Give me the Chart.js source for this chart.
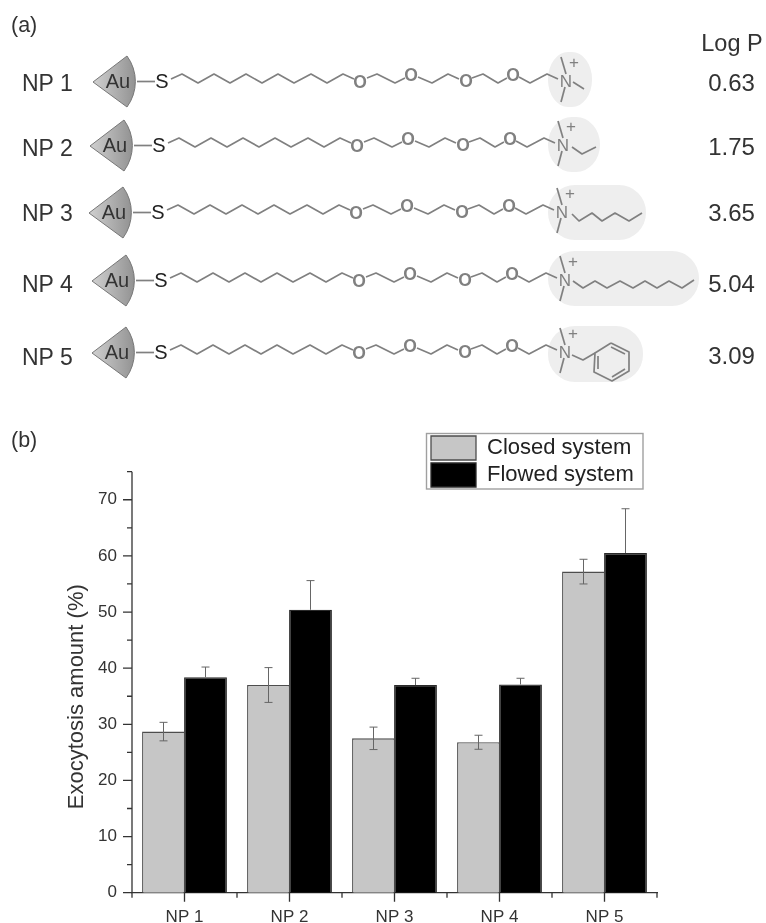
<!DOCTYPE html>
<html>
<head>
<meta charset="utf-8">
<title>Exocytosis amount</title>
<script src="https://cdn.jsdelivr.net/npm/chart.js@4/dist/chart.umd.min.js"></script>
<style>
  html, body { margin: 0; padding: 0; background: #fff; overflow: hidden; }
  #wrap { position: relative; width: 766px; height: 923px; filter: blur(0.35px); }
  #chart { position: absolute; left: 0; top: 0; }
  #scheme { position: absolute; left: 0; top: 0; }
  #scheme text { font-family: "Liberation Sans", Arial, sans-serif; }
</style>
</head>
<body>
<div id="wrap">
  <canvas id="chart" width="766" height="923"></canvas>
  <svg id="scheme" width="766" height="460" xmlns="http://www.w3.org/2000/svg"></svg>
</div>
<script>
// ── chart data ───────────────────────────────────────────
const categories = ['NP 1', 'NP 2', 'NP 3', 'NP 4', 'NP 5'];
const closedValues = [28.7, 37.0, 27.5, 26.8, 57.2];
const flowedValues = [38.4, 50.4, 37.0, 37.1, 60.5];
const closedErrors = [1.65, 3.1, 2.0, 1.25, 2.2];
const flowedErrors = [1.8, 5.2, 1.2, 1.1, 7.9];
const seriesNames = ['Closed system', 'Flowed system'];
const yTitle = 'Exocytosis amount (%)';

// ── scheme (a) labels ────────────────────────────────────
const logPHeader = 'Log P';
const logPValues = ['0.63', '1.75', '3.65', '5.04', '3.09'];

const INK = '#333333';
const BOND = '#808080';
const FONT = '"Liberation Sans", Arial, sans-serif';

// ── scheme (a): the ligand drawings, NP 1 is the template ─
const rowDx = [0, -3, -4, -1, -1];
const rowDy = [0, 64, 131, 199, 271];
const labelY = [83, 148, 213, 284, 357];
const logPY = [82, 146, 212, 283, 355];
const blobs = [
  [548, 52, 44, 55, 20],
  [548, 117, 52, 55, 24],
  [548, 185, 98, 55, 27],
  [548, 251, 151, 55, 27],
  [548, 326, 95, 56, 27],
];
const tails = [
  [[573, 82], [584, 89]],
  [[572, 147], [582, 154], [596, 147]],
  [[572, 214], [579, 221], [592, 213], [602, 221], [615, 213], [629, 221], [642, 213]],
  [[573, 281], [583, 288], [595, 281], [607, 288], [620, 281], [633, 288], [645, 281],
   [657, 288], [669, 281], [682, 288], [694, 280]],
  [[572, 355], [583, 360], [595, 353]],
];

function polyline(pts, dx, dy) {
  const p = pts.map(function (q) { return (q[0] + dx) + ',' + (q[1] + dy); }).join(' ');
  return '<polyline points="' + p + '" fill="none" stroke="' + BOND + '" stroke-width="1.7" stroke-linejoin="round"/>';
}

function label(str, x, y, size, color, anchor, weight) {
  return '<text x="' + x + '" y="' + y + '" font-size="' + size + '" fill="' + color +
    '" text-anchor="' + (anchor || 'start') + '" dominant-baseline="central"' +
    (weight ? ' font-weight="' + weight + '"' : '') + '>' + str + '</text>';
}

function buildScheme() {
  let out = '<defs><linearGradient id="au" x1="0" x2="1" y1="0" y2="0">' +
    '<stop offset="0" stop-color="#d0d0d0"/><stop offset="1" stop-color="#929292"/></linearGradient></defs>';
  out += label('(a)', 11, 25, 21.5, INK);
  out += label('(b)', 11, 440, 21.5, INK);
  out += label(logPHeader, 732, 43, 23.5, INK, 'middle');

  categories.forEach(function (name, i) {
    const dx = rowDx[i], dy = rowDy[i];
    const b = blobs[i];
    out += '<rect x="' + b[0] + '" y="' + b[1] + '" width="' + b[2] + '" height="' + b[3] +
      '" rx="' + b[4] + '" ry="27" fill="#eeeeee"/>';

    out += label(name, 22, labelY[i], 23, INK);
    out += label(logPValues[i], 731.5, logPY[i], 24, INK, 'middle');

    // gold wedge
    out += '<path d="M' + (93 + dx) + ' ' + (82 + dy) + ' L' + (127 + dx) + ' ' + (56 + dy) +
      ' A43 43 0 0 1 ' + (127 + dx) + ' ' + (107 + dy) + ' Z" fill="url(#au)" stroke="#777777" stroke-width="1"/>';
    out += label('Au', 118 + dx, 81 + dy, 20, INK, 'middle');
    out += polyline([[137, 81.5], [155, 81.5]], dx, dy);
    out += label('S', 162 + dx, 81 + dy, 20, '#222222', 'middle');

    // PEG chain
    out += polyline([[171, 79], [182, 74], [198, 83], [214, 74], [230, 83], [246, 74], [262, 83],
      [278, 74], [294, 83], [311, 74], [327, 83], [343, 74], [354, 79]], dx, dy);
    out += polyline([[367, 78], [377, 74], [395, 83], [405, 78]], dx, dy);
    out += polyline([[418, 77], [432, 83], [448, 74], [459, 79]], dx, dy);
    out += polyline([[472, 78], [483, 74], [498, 83], [507, 78]], dx, dy);
    out += polyline([[519, 77], [530, 83], [547, 74], [558, 79]], dx, dy);
    [[360, 82], [411, 75], [466, 81], [513, 75]].forEach(function (o) {
      out += label('O', o[0] + dx, o[1] + dy, 17.5, BOND, 'middle', 'bold');
    });

    // ammonium head
    out += label('N', 566 + dx, 81 + dy, 17, BOND, 'middle');
    out += polyline([[566, 74], [561, 57]], dx, dy);
    out += polyline([[565, 87], [561, 102]], dx, dy);
    out += label('+', 574 + dx, 62 + dy, 17, BOND, 'middle');
    out += polyline(tails[i], 0, 0);
  });

  // benzyl ring of NP 5
  out += polyline([[611, 343], [629, 352], [629, 371], [612, 381], [594, 372], [595, 353], [611, 343]], 0, 0);
  out += polyline([[611, 347], [625, 354]], 0, 0);
  out += polyline([[625, 369], [612, 377]], 0, 0);
  out += polyline([[598, 369], [598, 356]], 0, 0);

  document.getElementById('scheme').innerHTML = out;
}

// ── plugin: legend position and frame, axis ticks, error bars ──
const figurePlugin = {
  id: 'figure',
  afterLayout: function (chart) {
    const lg = chart.legend;
    lg.left = 428; lg.right = 643; lg.top = 433; lg.bottom = 492;
    // the title sits a bit below the axis middle in the original
    chart.scales.y.bottom += 29;
  },
  afterDraw: function (chart) {
    const ctx = chart.ctx;
    const x = chart.scales.x, y = chart.scales.y;
    ctx.save();
    ctx.strokeStyle = INK;
    ctx.lineWidth = 1.3;
    ctx.beginPath();
    // y axis line (native border would follow the shifted scale bottom)
    ctx.moveTo(y.right, y.getPixelForValue(75));
    ctx.lineTo(y.right, y.getPixelForValue(0));
    // y ticks, long on tens
    for (let v = 0; v <= 75; v += 5) {
      const py = y.getPixelForValue(v);
      ctx.moveTo(y.right, py);
      ctx.lineTo(y.right - (v % 10 === 0 ? 9 : 5), py);
    }
    // x ticks, long on the categories, short between them
    const step = x.getPixelForValue(1) - x.getPixelForValue(0);
    categories.forEach(function (c, i) {
      const px = x.getPixelForValue(i);
      ctx.moveTo(px, x.top);
      ctx.lineTo(px, x.top + 9);
      ctx.moveTo(px - step / 2, x.top);
      ctx.lineTo(px - step / 2, x.top + 5);
    });
    const last = x.getPixelForValue(categories.length - 1) + step / 2;
    ctx.moveTo(last, x.top);
    ctx.lineTo(last, x.top + 5);
    ctx.stroke();

    // legend frame
    ctx.strokeStyle = '#a0a0a0';
    ctx.lineWidth = 1.4;
    ctx.strokeRect(426.5, 433.5, 216.5, 55.5);
    ctx.restore();
  },
  afterDatasetsDraw: function (chart) {
    const ctx = chart.ctx;
    const y = chart.scales.y;
    ctx.save();
    ctx.strokeStyle = '#666666';
    ctx.lineWidth = 1;
    ctx.beginPath();
    [closedErrors, flowedErrors].forEach(function (errs, d) {
      const values = d === 0 ? closedValues : flowedValues;
      chart.getDatasetMeta(d).data.forEach(function (bar, i) {
        const top = y.getPixelForValue(values[i] + errs[i]);
        // the lower half of the flowed bars disappears in the black fill
        const bottom = y.getPixelForValue(d === 0 ? values[i] - errs[i] : values[i]);
        ctx.moveTo(bar.x, top);
        ctx.lineTo(bar.x, bottom);
        ctx.moveTo(bar.x - 4, top);
        ctx.lineTo(bar.x + 4, top);
        if (d === 0) {
          ctx.moveTo(bar.x - 4, bottom);
          ctx.lineTo(bar.x + 4, bottom);
        }
      });
    });
    ctx.stroke();
    ctx.restore();
  },
};

function buildChart() {
  const canvas = document.getElementById('chart');
  return new Chart(canvas.getContext('2d'), {
    type: 'bar',
    data: {
      labels: categories,
      datasets: [
        { label: seriesNames[0], data: closedValues, backgroundColor: '#c6c6c6', borderColor: '#4d4d4d', borderWidth: 1.3 },
        { label: seriesNames[1], data: flowedValues, backgroundColor: '#000000', borderColor: '#2a2a2a', borderWidth: 1.3 },
      ],
    },
    options: {
      responsive: false,
      animation: false,
      events: [],
      layout: { padding: { left: 0, right: 109, top: 471.7, bottom: 0 } },
      // slightly over 1 so neighbouring bars share an edge with no white seam
      datasets: { bar: { barPercentage: 1.02, categoryPercentage: 0.8 } },
      plugins: {
        title: { display: false },
        tooltip: { enabled: false },
        legend: {
          display: true,
          position: 'chartArea',
          align: 'start',
          labels: {
            boxWidth: 45,
            boxHeight: 24,
            padding: 3,
            color: '#222222',
            font: { family: FONT, size: 22 },
          },
        },
      },
      scales: {
        x: {
          grid: { display: false },
          border: { color: INK, width: 1.3 },
          ticks: { color: INK, padding: 6, maxRotation: 0, font: { family: FONT, size: 17 } },
          afterFit: function (scale) { scale.height = 30.3; },
        },
        y: {
          min: 0,
          max: 75,
          grid: { display: false },
          border: { display: false },
          ticks: {
            stepSize: 5,
            color: INK,
            padding: 7,
            font: { family: FONT, size: 17 },
            callback: function (v) { return v % 10 === 0 ? v : ''; },
          },
          title: {
            display: true,
            text: yTitle,
            color: INK,
            padding: { top: 64, bottom: 0 },
            font: { family: FONT, size: 22 },
          },
          afterFit: function (scale) { scale.width = 132; },
        },
      },
    },
    plugins: [figurePlugin],
  });
}

buildScheme();
buildChart();
</script>
</body>
</html>
